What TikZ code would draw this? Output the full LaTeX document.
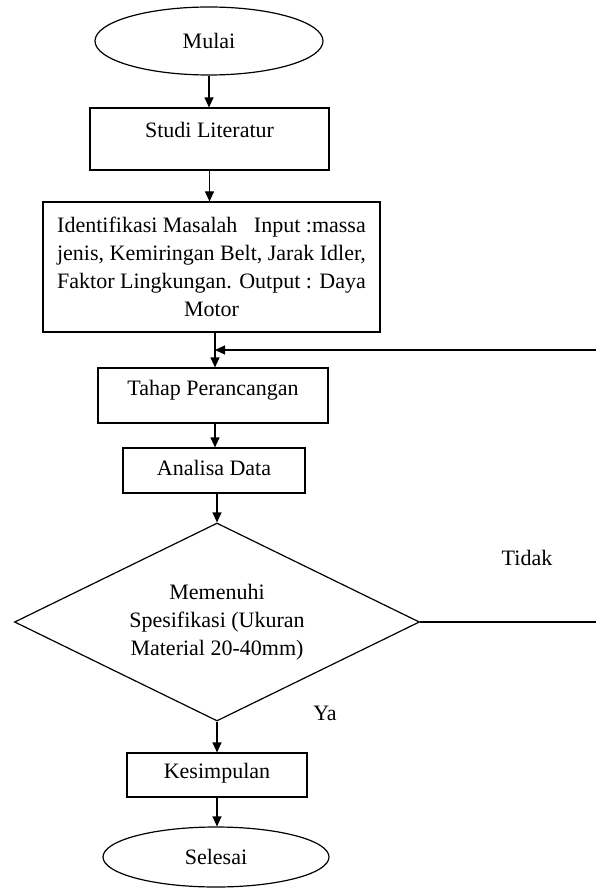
\documentclass[tikz,border=0pt]{standalone}
\usepackage{fontspec}
\setmainfont{Liberation Serif}
\usetikzlibrary{shapes.geometric,arrows.meta}
\begin{document}
\begin{tikzpicture}[x=1pt,y=-1pt,
  every node/.style={font=\fontsize{22}{28}\selectfont},
  box/.style={draw, line width=1.2pt, rectangle, inner sep=0pt},
  term/.style={draw, line width=1.2pt, ellipse, inner sep=0pt},
  dec/.style={draw, line width=1.2pt, diamond, aspect=2, inner sep=0pt, align=center},
  arr/.style={line width=1.2pt, -{Triangle[length=10pt,width=9pt]}},
  ln/.style={line width=1.2pt},
  lbl/.style={inner sep=0pt}]
\useasboundingbox[fill=white] (0,0) rectangle (595,893);

\node[term, minimum width=228pt, minimum height=68pt] (mulai) at (209,41) {Mulai};
\node[box, minimum width=239pt, text height=30pt, text depth=32pt, anchor=base] (studi) at (209.5,138) {Studi Literatur};
\node[box, minimum width=337pt, minimum height=130pt, align=center] (ident) at (211.5,267)
  {Identifikasi Masalah\ \ \ Input :massa\\ jenis, Kemiringan Belt, Jarak Idler,\\ Faktor Lingkungan. Output : Daya\\ Motor};
\node[box, minimum width=230pt, text height=27pt, text depth=28pt, anchor=base] (tahap) at (213,395) {Tahap Perancangan};
\node[box, minimum width=182pt, text height=27pt, text depth=18pt, anchor=base] (analisa) at (214,475) {Analisa Data};
\node[dec, minimum width=405pt, minimum height=198pt] (cek) at (217,622)
  {Memenuhi\\ Spesifikasi (Ukuran\\ Material 20-40mm)};
\node[box, minimum width=180pt, text height=25pt, text depth=19pt, anchor=base] (kes) at (217,778) {Kesimpulan};
\node[term, minimum width=226pt, minimum height=60pt] (selesai) at (216,857) {Selesai};

\node[lbl] (tidak) at (527,558) {Tidak};
\node[lbl] (ya) at (325,713) {Ya};

\coordinate (join) at (215,350);
\coordinate (fbR) at (596,350);
\coordinate (fbR2) at (596,622);

\draw[arr] (mulai.south) -- (mulai.south |- studi.north);
\draw[arr] (studi.south) -- (studi.south |- ident.north);
\draw[arr] (ident.south -| join) -- (tahap.north -| join);
\draw[arr] (fbR) -- (join);
\draw[arr] (tahap.south -| join) -- (analisa.north -| join);
\draw[arr] (analisa.south -| cek.north) -- (cek.north);
\draw[ln] (cek.east) -- (fbR2);
\draw[arr] (cek.south) -- (cek.south |- kes.north);
\draw[arr] (kes.south) -- (kes.south |- selesai.north);
\end{tikzpicture}
\end{document}
